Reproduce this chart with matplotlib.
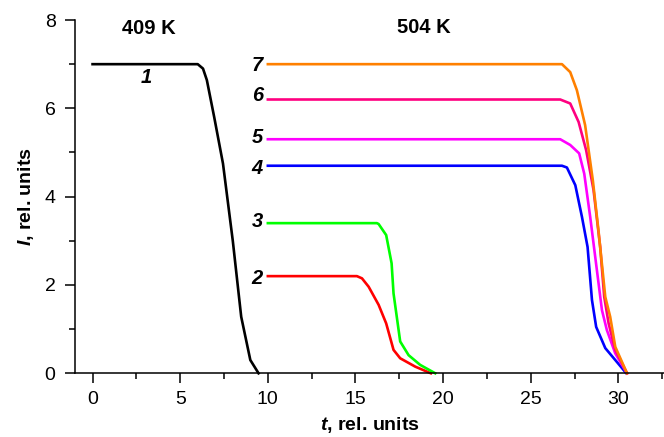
import matplotlib
matplotlib.use("Agg")
import matplotlib.pyplot as plt
from matplotlib.ticker import MultipleLocator

plt.rcParams['font.family'] = ['Liberation Sans', 'DejaVu Sans']
plt.rcParams['mathtext.fontset'] = 'custom'
plt.rcParams['mathtext.bfit'] = 'Liberation Sans:bold:italic'
plt.rcParams['mathtext.it'] = 'Liberation Sans:italic'
plt.rcParams['mathtext.bf'] = 'Liberation Sans:bold'
plt.rcParams['mathtext.rm'] = 'Liberation Sans'

# Curve 1 (409 K)
t1 = [0, 6.0, 6.30, 6.52, 6.94, 7.44, 8.0, 8.48, 9.0, 9.47]
i1 = [7.0, 7.0, 6.9, 6.64, 5.8, 4.75, 3.0, 1.28, 0.3, 0.0]

# Curves 2-7 (504 K)
t2 = [10, 15.08, 15.37, 15.75, 16.32, 16.75, 17.17, 17.55, 18.41, 19.3]
i2 = [2.2, 2.2, 2.15, 1.96, 1.55, 1.13, 0.53, 0.34, 0.15, 0.0]

t3 = [10, 16.22, 16.32, 16.75, 17.06, 17.17, 17.55, 18.03, 18.69, 19.55]
i3 = [3.4, 3.4, 3.38, 3.13, 2.49, 1.81, 0.72, 0.41, 0.19, 0.0]

t4 = [10, 26.78, 27.06, 27.54, 27.92, 28.24, 28.49, 28.73, 29.25, 29.82, 30.45]
i4 = [4.7, 4.7, 4.66, 4.26, 3.54, 2.86, 1.66, 1.05, 0.57, 0.3, 0.0]

t5 = [10, 26.68, 27.25, 27.76, 28.05, 28.39, 28.77, 29.06, 29.34, 29.82, 30.49]
i5 = [5.3, 5.3, 5.17, 4.98, 4.52, 3.54, 2.34, 1.43, 0.98, 0.45, 0.0]

t6 = [10, 26.68, 27.25, 27.73, 28.16, 28.58, 28.96, 29.19, 29.44, 29.82, 30.49]
i6 = [6.2, 6.2, 6.11, 5.69, 5.05, 4.15, 2.86, 1.73, 1.13, 0.53, 0.0]

t7 = [10, 26.78, 27.25, 27.63, 28.1, 28.54, 28.86, 29.25, 29.53, 29.82, 30.49]
i7 = [7.0, 7.0, 6.82, 6.41, 5.62, 4.37, 3.24, 1.73, 1.28, 0.6, 0.0]

series = [
    (t1, i1, '#000000'),
    (t2, i2, '#FF0000'),
    (t3, i3, '#00FF00'),
    (t4, i4, '#0000FF'),
    (t5, i5, '#FF00FF'),
    (t6, i6, '#FF0080'),
    (t7, i7, '#FF8000'),
]

curve_labels = ['1', '2', '3', '4', '5', '6', '7']
label_pos = [(3.06, 6.69), (9.4, 2.15), (9.4, 3.43), (9.4, 4.64),
             (9.4, 5.33), (9.4, 6.3), (9.4, 6.97)]

fig = plt.figure(figsize=(6.64, 4.37), dpi=100)
ax = fig.add_axes([0.113, 0.1458, 0.887, 0.8084])

for t, i, c in series:
    ax.plot(t, i, color=c, lw=1.9, solid_joinstyle='round', clip_on=False)

for lab, (x, y) in zip(curve_labels, label_pos):
    ax.text(x, y, lab, fontsize=14.5, fontweight='bold', fontstyle='italic',
            ha='center', va='center')

ax.text(3.2, 7.8, '409 K', fontsize=14.5, fontweight='bold', ha='center', va='center')
ax.text(18.9, 7.84, '504 K', fontsize=14.5, fontweight='bold', ha='center', va='center')

ax.set_xlim(-1, 32.6)
ax.set_ylim(0, 8)
ax.xaxis.set_major_locator(MultipleLocator(5))
ax.xaxis.set_minor_locator(MultipleLocator(2.5))
ax.yaxis.set_major_locator(MultipleLocator(2))
ax.yaxis.set_minor_locator(MultipleLocator(1))
ax.tick_params(which='major', direction='out', length=7, width=1.1, labelsize=14)
ax.tick_params(axis='x', which='major', pad=6)
ax.tick_params(axis='y', which='major', pad=7)
ax.tick_params(which='minor', direction='out', length=4, width=1.1)
ax.spines['top'].set_visible(False)
ax.spines['right'].set_visible(False)
ax.spines['left'].set_linewidth(1.1)
ax.spines['bottom'].set_linewidth(1.1)

ax.set_xlabel(r'$\mathbfit{t}$, rel. units', fontsize=14, fontweight='bold', labelpad=5)
ax.set_ylabel(r'$\mathbfit{I}$, rel. units', fontsize=14, fontweight='bold', labelpad=6)

fig.savefig('out.png', dpi=100)
